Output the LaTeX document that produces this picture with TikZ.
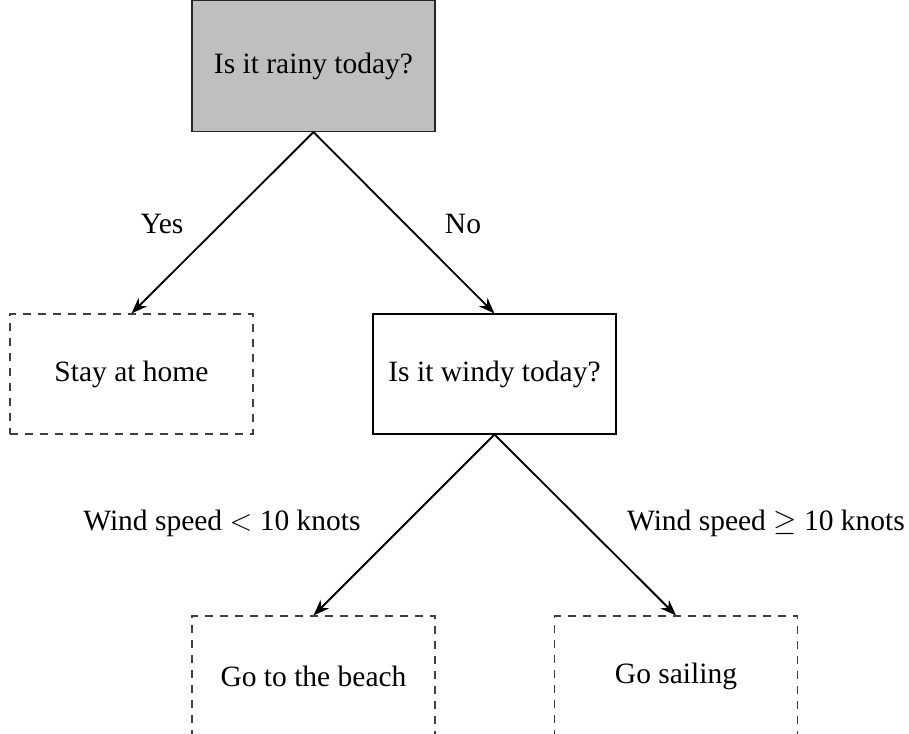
\documentclass[tikz,border=0pt]{standalone}
\usepackage{fontspec}
\setmainfont{Liberation Serif}
\usetikzlibrary{arrows.meta}
\begin{document}
\begin{tikzpicture}[x=0.4pt,y=-0.4pt,
  every node/.style={font=\fontsize{11.8}{14}\selectfont},
  box/.style={draw=black, line width=0.45pt, rectangle,
    minimum width=97.2pt, minimum height=48pt, inner sep=0pt},
  rootbox/.style={box, draw=black!85, fill=lightgray, minimum height=52.4pt},
  leafbox/.style={box, draw=black!75, dash pattern=on 3.2pt off 2.8pt},
  lbl/.style={inner sep=0pt},
  link/.style={-{Stealth[length=6.4pt,width=4.8pt]}, line width=0.75pt}]
  \clip (0,0) rectangle (909,734);
  \useasboundingbox (0,0) rectangle (909,734);

  % decision and outcome boxes
  \node[rootbox] (rainy) at (313.5,66) {Is it rainy today?};
  \node[leafbox] (home)  at (131.5,374) {Stay at home};
  \node[box]     (windy) at (494.5,374) {Is it windy today?};
  \node[leafbox] (beach) at (313.5,676) {Go to the beach};
  \node[leafbox] (sail)  at (676,676)  {Go sailing};

  % branch labels
  \node[lbl] (yes)  at (162,224) {Yes};
  \node[lbl] (no)   at (463,224) {No};
  \node[lbl] (slow) at (222,523) {Wind speed $<$ 10 knots};
  \node[lbl] (fast) at (766,523) {Wind speed $\geq$ 10 knots};

  % connectors
  \draw[link] (rainy.south) -- (home.north);
  \draw[link] (rainy.south) -- (windy.north);
  \draw[link] (windy.south) -- (beach.north);
  \draw[link] (windy.south) -- (sail.north);
\end{tikzpicture}
\end{document}
